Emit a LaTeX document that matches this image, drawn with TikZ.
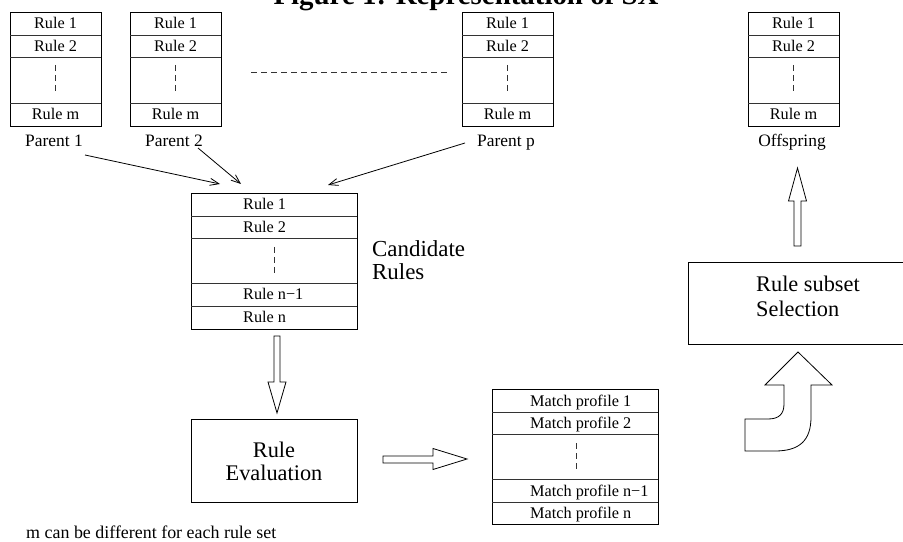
\documentclass[tikz,border=0pt]{standalone}
\usepackage{fontspec}
\setmainfont{Liberation Serif}
\usetikzlibrary{arrows.meta}
\tikzset{
  box/.style={draw=black, line width=0.8bp, inner sep=0pt, outer sep=0pt, anchor=north west},
  sep/.style={draw=black!80, line width=0.8bp},
  dots/.style={draw=black!80, line width=0.8bp, dash pattern=on 6bp off 4bp},
  rtext/.style={inner sep=0pt, anchor=base, font=\fontsize{16.3}{18}\selectfont},
  ltext/.style={inner sep=0pt, anchor=base west, font=\fontsize{16.3}{18}\selectfont},
  lab/.style={inner sep=0pt, anchor=base, font=\fontsize{17.5}{20}\selectfont},
  big/.style={inner sep=0pt, anchor=base west, font=\fontsize{23}{26}\selectfont},
  arr/.style={line width=0.8bp, -{Straight Barb[length=9bp,width=7bp]}},
  blockarrow/.style={draw=black, line width=0.8bp, fill=white, line join=miter},
}
\begin{document}
\begin{tikzpicture}[x=1bp, y=-1bp]
\useasboundingbox (0,0) rectangle (903,542);

% title
\node[inner sep=0pt, anchor=base, font=\fontsize{29}{32}\selectfont\bfseries] (title) at (466,5) {Figure 1: Representation of SX};

% parent / offspring rule sets
\foreach \nm/\xl/\lbl in {p1/10/Parent 1, p2/130/Parent 2, pp/462/Parent p, off/748/Offspring} {
  \node[box, minimum width=91bp, minimum height=114bp] (\nm) at (\xl,12) {};
  \draw[sep] (\xl,35) -- ++(91,0);
  \draw[sep] (\xl,57) -- ++(91,0);
  \draw[sep] (\xl,103) -- ++(91,0);
  \draw[dots] (\xl+45.5,65) -- (\xl+45.5,95);
  \node[rtext] (\nm r1) at (\xl+45.5,29) {Rule 1};
  \node[rtext] (\nm r2) at (\xl+45.5,51.5) {Rule 2};
  \node[rtext] (\nm rm) at (\xl+45.5,120) {Rule m};
  \node[lab] (\nm lab) at (\xl+44,147) {\lbl};
}

% dashed ellipsis between parents
\coordinate (dl) at (251,72);
\coordinate (dr) at (447,72);
\draw[dots] (dl) -- (dr);

% candidate rules
\node[box, minimum width=166bp, minimum height=136bp] (cand) at (191,193) {};
\draw[sep] (191,216) -- ++(166,0);
\draw[sep] (191,238) -- ++(166,0);
\draw[sep] (191,283) -- ++(166,0);
\draw[sep] (191,306) -- ++(166,0);
\draw[dots] (274,247) -- (274,276);
\node[ltext] (c1) at (243,210) {Rule 1};
\node[ltext] (c2) at (243,232.5) {Rule 2};
\node[ltext] (cn1) at (243,300) {Rule n−1};
\node[ltext] (cn) at (243,323) {Rule n};
\node[big] (candlab1) at (372,257) {Candidate};
\node[big] (candlab2) at (372,280) {Rules};

% arrows from parents to candidate rules
\coordinate (s1) at (85,155);
\coordinate (s2) at (198,148);
\coordinate (s3) at (465,143);
\coordinate (t1) at (220,184);
\coordinate (t2) at (241,184);
\coordinate (t3) at (328,185);
\draw[arr] (s1) -- (t1);
\draw[arr] (s2) -- (t2);
\draw[arr] (s3) -- (t3);

% rule evaluation
\node[box, minimum width=166bp, minimum height=83bp] (eval) at (191,419) {};
\node[inner sep=0pt, anchor=base, font=\fontsize{22.4}{26}\selectfont] (evall1) at (274,457) {Rule};
\node[inner sep=0pt, anchor=base, font=\fontsize{22.4}{26}\selectfont] (evall2) at (274,480) {Evaluation};

% block arrow candidate -> evaluation
\draw[blockarrow] (274,336) -- (280,336) -- (280,382) -- (286,382) -- (277,413) -- (268,382) -- (274,382) -- cycle;

% block arrow evaluation -> match profiles
\draw[blockarrow] (383,456) -- (433,456) -- (433,448.5) -- (467,459) -- (433,469.5) -- (433,463) -- (383,463) -- cycle;

% match profiles
\node[box, minimum width=166bp, minimum height=135bp] (match) at (492,389) {};
\draw[sep] (492,412) -- ++(166,0);
\draw[sep] (492,434) -- ++(166,0);
\draw[sep] (492,479) -- ++(166,0);
\draw[sep] (492,502) -- ++(166,0);
\draw[dots] (576,443) -- (576,471);
\node[ltext] (m1) at (530,406) {Match profile 1};
\node[ltext] (m2) at (530,428.5) {Match profile 2};
\node[ltext] (mn1) at (530,496) {Match profile n−1};
\node[ltext] (mn) at (530,518.5) {Match profile n};

% rule subset selection
\node[box, minimum width=230bp, minimum height=82bp] (sel) at (688,262) {};
\node[inner sep=0pt, anchor=base west, font=\fontsize{22.4}{26}\selectfont] (sell1) at (756,292) {Rule subset};
\node[inner sep=0pt, anchor=base west, font=\fontsize{22.4}{26}\selectfont] (sell2) at (756,317) {Selection};

% curved block arrow match -> selection
\draw[blockarrow] (745,451) -- (775,451) .. controls (800,451) and (811,440) .. (811,417)
  -- (811,385) -- (832,385) -- (798,352) -- (765,385) -- (784,385) -- (784,404)
  .. controls (784,414) and (779,419) .. (768,419) -- (745,419) -- cycle;

% block arrow selection -> offspring
\draw[blockarrow] (794,246) -- (801,246) -- (801,201) -- (806.5,201) -- (797.5,168) -- (788.5,201) -- (794,201) -- cycle;

% footnote
\node[inner sep=0pt, anchor=base west, font=\fontsize{18}{20}\selectfont] (note) at (26,538) {m can be different for each rule set};
\end{tikzpicture}
\end{document}
